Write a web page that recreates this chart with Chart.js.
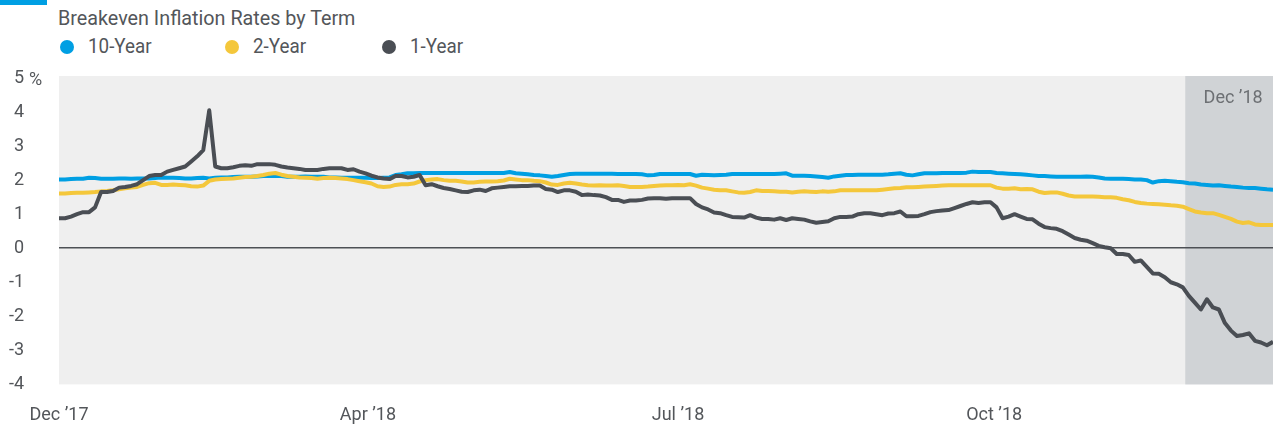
<!DOCTYPE html>
<html>
<head>
<meta charset="utf-8">
<script src="https://cdn.jsdelivr.net/npm/chart.js@4"></script>
<style>
  html, body { margin: 0; padding: 0; background: #fff; }
  body { width: 1273px; height: 427px; position: relative; overflow: hidden;
         font-family: "Roboto", sans-serif; color: #53565a; }
  #topbar { position: absolute; left: 0; top: 0; width: 47px; height: 5px; background: #009fe3; }
  #title { position: absolute; left: 58px; top: 6px; font-size: 21px; white-space: nowrap;
           transform: scaleX(0.94); transform-origin: 0 0; }
  #legend { position: absolute; left: 60px; top: 34px; font-size: 20px; white-space: nowrap; }
  .item { position: absolute; top: 0; }
  .dot { position: absolute; top: 6px; width: 14px; height: 14px; border-radius: 50%; }
  .lab { position: absolute; left: 28px; top: 0; transform: scaleX(0.94); transform-origin: 0 0; }
  #c { position: absolute; left: 0; top: 0; }
</style>
</head>
<body>
<div id="topbar"></div>
<div id="title">Breakeven Inflation Rates by Term</div>
<div id="legend"></div>
<canvas id="c" width="1273" height="427"></canvas>
<script>
// series names and colours
var seriesNames = ["10-Year", "2-Year", "1-Year"];
var seriesColors = ["#009fe3", "#f4c73b", "#4a4e54"];

// x axis labels (trading-day index where each label sits)
var tickLabels = ["Dec \u201917", "Apr \u201918", "Jul \u201918", "Oct \u201918"];
var tickIndex = [0, 51.4, 103, 155.6];
var shadeFrom = 187.4;           // start of Dec '18
var shadeLabel = "Dec \u201918";

// y axis
var yTicks = [5, 4, 3, 2, 1, 0, -1, -2, -3, -4];

var tenYear = [
  2.02,2.02,2.03,2.04,2.04,2.07,2.06,2.04,2.04,2.04,
  2.05,2.05,2.04,2.05,2.05,2.05,2.06,2.08,2.07,2.07,
  2.06,2.05,2.05,2.06,2.07,2.05,2.07,2.08,2.08,2.09,
  2.10,2.10,2.10,2.11,2.12,2.12,2.13,2.12,2.10,2.10,
  2.10,2.11,2.10,2.10,2.10,2.08,2.08,2.07,2.07,2.07,
  2.07,2.07,2.06,2.06,2.07,2.08,2.15,2.17,2.20,2.20,
  2.21,2.21,2.21,2.21,2.21,2.21,2.21,2.21,2.21,2.21,
  2.21,2.21,2.21,2.21,2.21,2.24,2.20,2.19,2.17,2.15,
  2.14,2.12,2.10,2.12,2.15,2.18,2.19,2.19,2.19,2.19,
  2.19,2.19,2.19,2.18,2.18,2.18,2.18,2.17,2.14,2.15,
  2.18,2.18,2.18,2.18,2.18,2.18,2.13,2.16,2.15,2.14,
  2.15,2.16,2.18,2.18,2.18,2.18,2.18,2.18,2.18,2.18,
  2.19,2.20,2.13,2.13,2.13,2.12,2.11,2.09,2.07,2.11,
  2.13,2.15,2.15,2.16,2.16,2.16,2.16,2.16,2.17,2.19,
  2.20,2.16,2.14,2.17,2.20,2.20,2.20,2.21,2.21,2.21,
  2.21,2.22,2.25,2.24,2.24,2.24,2.21,2.20,2.19,2.18,
  2.17,2.16,2.14,2.12,2.12,2.11,2.10,2.10,2.10,2.10,
  2.10,2.11,2.10,2.08,2.05,2.04,2.04,2.04,2.03,2.02,
  2.02,2.00,1.93,1.97,1.98,1.97,1.95,1.94,1.91,1.90,
  1.87,1.86,1.84,1.85,1.83,1.81,1.80,1.78,1.77,1.77,
  1.75,1.73,1.72
];

var twoYear = [
  1.61,1.61,1.62,1.63,1.63,1.64,1.65,1.67,1.68,1.70,
  1.73,1.76,1.78,1.80,1.86,1.91,1.92,1.86,1.86,1.87,
  1.86,1.85,1.82,1.81,1.84,1.98,2.02,2.03,2.04,2.05,
  2.07,2.09,2.10,2.12,2.15,2.19,2.21,2.16,2.12,2.10,
  2.08,2.07,2.06,2.04,2.06,2.07,2.06,2.05,2.03,2.00,
  1.97,1.94,1.90,1.82,1.80,1.81,1.86,1.88,1.88,1.90,
  1.96,2.00,2.02,2.03,2.00,1.98,1.98,1.96,1.93,1.93,
  1.95,1.96,1.96,1.97,1.99,2.04,2.02,2.00,2.00,1.98,
  1.97,1.93,1.87,1.86,1.90,1.92,1.90,1.87,1.85,1.84,
  1.85,1.84,1.84,1.85,1.83,1.80,1.80,1.80,1.81,1.83,
  1.84,1.85,1.85,1.86,1.85,1.88,1.84,1.78,1.75,1.72,
  1.70,1.70,1.67,1.64,1.63,1.65,1.70,1.68,1.68,1.67,
  1.66,1.66,1.64,1.66,1.67,1.66,1.65,1.67,1.66,1.67,
  1.70,1.70,1.70,1.70,1.70,1.70,1.70,1.72,1.74,1.76,
  1.77,1.79,1.79,1.80,1.81,1.82,1.83,1.84,1.85,1.85,
  1.85,1.85,1.85,1.85,1.85,1.85,1.78,1.75,1.75,1.76,
  1.73,1.74,1.73,1.66,1.62,1.64,1.64,1.60,1.55,1.52,
  1.52,1.52,1.52,1.51,1.50,1.50,1.48,1.44,1.41,1.36,
  1.33,1.31,1.30,1.29,1.28,1.26,1.25,1.22,1.15,1.08,
  1.05,1.03,1.03,0.98,0.92,0.86,0.78,0.74,0.76,0.70,
  0.68,0.68,0.68
];

var oneYear = [
  0.88,0.88,0.93,1.00,1.06,1.06,1.20,1.65,1.65,1.68,
  1.78,1.80,1.83,1.88,2.00,2.12,2.15,2.15,2.25,2.30,
  2.35,2.40,2.55,2.70,2.88,4.05,2.40,2.35,2.35,2.38,
  2.42,2.44,2.42,2.47,2.47,2.47,2.45,2.40,2.37,2.35,
  2.33,2.30,2.30,2.30,2.33,2.35,2.35,2.35,2.30,2.32,
  2.25,2.20,2.13,2.08,2.05,2.03,2.12,2.12,2.08,2.10,
  2.15,1.85,1.88,1.82,1.77,1.74,1.70,1.66,1.65,1.70,
  1.72,1.68,1.76,1.78,1.80,1.82,1.82,1.83,1.83,1.84,
  1.84,1.74,1.72,1.65,1.70,1.70,1.66,1.56,1.58,1.56,
  1.55,1.50,1.42,1.42,1.36,1.40,1.40,1.42,1.46,1.47,
  1.47,1.45,1.47,1.47,1.47,1.47,1.30,1.20,1.14,1.05,
  1.03,0.97,0.92,0.91,0.90,0.97,0.90,0.86,0.86,0.84,
  0.88,0.83,0.88,0.86,0.84,0.79,0.75,0.77,0.79,0.88,
  0.92,0.92,0.93,1.00,1.03,1.03,1.00,0.97,1.02,1.03,
  1.08,0.94,0.94,0.95,1.00,1.06,1.09,1.11,1.12,1.18,
  1.24,1.30,1.35,1.33,1.35,1.35,1.20,0.88,0.93,1.00,
  0.93,0.86,0.85,0.72,0.62,0.59,0.57,0.50,0.40,0.30,
  0.25,0.22,0.15,0.07,0.03,0.00,-0.17,-0.17,-0.20,-0.40,
  -0.36,-0.55,-0.74,-0.75,-0.85,-1.00,-1.06,-1.15,-1.40,-1.60,
  -1.80,-1.50,-1.74,-1.80,-2.20,-2.42,-2.58,-2.55,-2.50,-2.72,
  -2.77,-2.85,-2.75
];

var allSeries = [tenYear, twoYear, oneYear];

// legend (html)
var legendX = [0, 165, 322];
var legend = document.getElementById("legend");
seriesNames.forEach(function (name, i) {
  var item = document.createElement("div");
  item.className = "item";
  item.style.left = legendX[i] + "px";
  item.innerHTML = '<span class="dot" style="background:' + seriesColors[i] + '"></span>' +
                   '<span class="lab">' + name + '</span>';
  legend.appendChild(item);
});

var datasets = allSeries.map(function (vals, i) {
  return {
    label: seriesNames[i],
    data: vals.map(function (v, j) { return { x: j, y: v }; }),
    borderColor: seriesColors[i],
    borderWidth: 4,
    pointRadius: 0,
    tension: 0,
    borderJoinStyle: "round",
    fill: false,
    order: 3 - i
  };
});

var backdrop = {
  id: "backdrop",
  beforeDraw: function (chart) {
    var ctx = chart.ctx, a = chart.chartArea, xs = chart.scales.x;
    ctx.save();
    ctx.fillStyle = "#efefef";
    ctx.fillRect(a.left, a.top - 2, a.right - a.left, a.bottom - a.top + 2);
    var sx = xs.getPixelForValue(shadeFrom);
    ctx.fillStyle = "#d0d3d6";
    ctx.fillRect(sx, a.top - 2, a.right - sx, a.bottom - a.top + 2);
    ctx.fillStyle = "#6d7074";
    ctx.font = '18px Roboto, sans-serif';
    ctx.textAlign = "center";
    ctx.textBaseline = "middle";
    ctx.fillText(shadeLabel, (sx + a.right) / 2 + 4, a.top + 20);
    // percent sign after the top tick
    var ys = chart.scales.y;
    ctx.fillStyle = "#53565a";
    ctx.textAlign = "left";
    ctx.fillText("%", 29, ys.getPixelForValue(yTicks[0]) + 2);
    ctx.restore();
  }
};

new Chart(document.getElementById("c"), {
  type: "line",
  data: { datasets: datasets },
  options: {
    responsive: false,
    animation: false,
    devicePixelRatio: 1,
    layout: { padding: { top: 78, left: 0, right: 0, bottom: 0 } },
    plugins: { legend: { display: false }, tooltip: { enabled: false } },
    scales: {
      x: {
        type: "linear",
        min: 0,
        max: tenYear.length - 1,
        afterBuildTicks: function (s) { s.ticks = tickIndex.map(function (v) { return { value: v }; }); },
        grid: { display: false, drawTicks: true, tickLength: 19 },
        border: { display: false },
        ticks: {
          autoSkip: false,
          maxRotation: 0,
          padding: 1,
          color: "#53565a",
          font: { family: 'Roboto, sans-serif', size: 18 },
          callback: function (v, i) { return tickLabels[i]; }
        }
      },
      y: {
        min: -4,
        max: 5,
        afterFit: function (s) { s.width = 59; },
        afterBuildTicks: function (s) { s.ticks = yTicks.map(function (v) { return { value: v }; }); },
        border: { display: false },
        grid: {
          drawTicks: true,
          tickLength: 35,
          tickColor: "rgba(0,0,0,0)",
          lineWidth: 1.5,
          color: function (c) { return c.tick && c.tick.value === 0 ? "#4d5055" : "rgba(0,0,0,0)"; }
        },
        ticks: {
          padding: 0,
          color: "#53565a",
          font: { family: 'Roboto, sans-serif', size: 18 },
          callback: function (v) { return String(v); }
        }
      }
    }
  },
  plugins: [backdrop]
});
</script>
</body>
</html>
